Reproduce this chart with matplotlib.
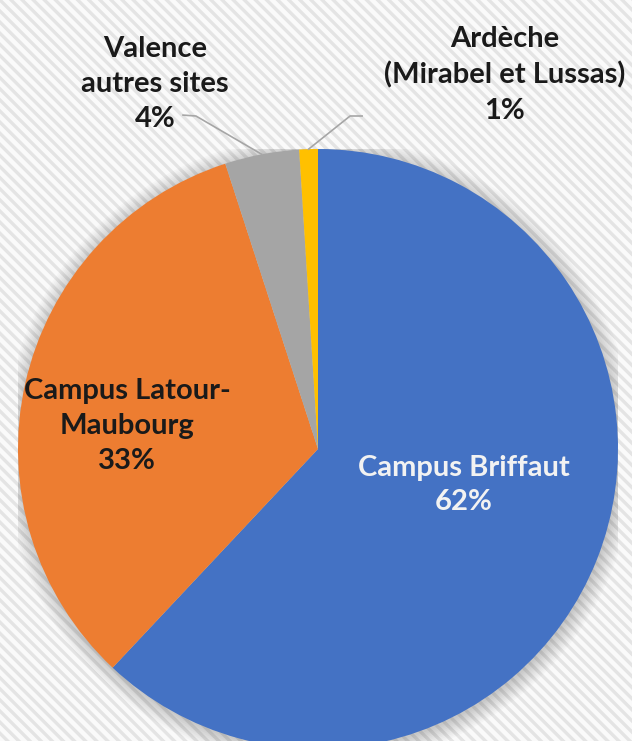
import matplotlib
matplotlib.use("Agg")
import matplotlib.pyplot as plt
import numpy as np
from matplotlib.patches import Circle

plt.rcParams['font.family'] = ['Lato', 'DejaVu Sans']
plt.rcParams['hatch.linewidth'] = 2.4

labels = ["Campus Briffaut", "Campus Latour-\nMaubourg", "Valence\nautres sites",
          "Ardèche\n(Mirabel et Lussas)"]
shares = [62, 33, 4, 1]
colors = ["#4472c4", "#ed7d31", "#a5a5a5", "#ffc000"]
text_colors = ["#f2f2f2", "#1a1a1a", "#1a1a1a", "#1a1a1a"]

W, H = 632, 741
fig = plt.figure(figsize=(W / 100, H / 100), dpi=100)

# striped background
bg = fig.add_axes([0, 0, 1, 1])
bg.add_patch(plt.Rectangle((0, 0), 1, 1, facecolor="#fafafa", hatch="\\\\\\",
                           edgecolor="#e4e4e4", linewidth=0, transform=bg.transAxes))
bg.axis("off")

# pie axes: center (318, 449) px, radius 300 px
cx, cy, r = 318, 449, 300
ax = fig.add_axes([(cx - r) / W, (H - cy - r) / H, 2 * r / W, 2 * r / H])

# soft shadow
for k in range(10):
    ax.add_patch(Circle((0.004, -0.008), 1.0 + 0.006 * k, color="black", alpha=0.018,
                        lw=0, zorder=0))

wedges, _ = ax.pie(shares, colors=colors, startangle=90, counterclock=False, radius=1,
                   wedgeprops=dict(linewidth=0))
for w in wedges:
    w.set_zorder(2)
ax.set_xlim(-1, 1)
ax.set_ylim(-1, 1)
ax.set_aspect("equal")
ax.axis("off")

# label positions in data units (layout)
pos = [(0.485, -0.12), (-0.637, 0.077), (-0.543, 1.217), (0.623, 1.247)]
for lab, s, p, tc in zip(labels, shares, pos, text_colors):
    ax.text(p[0], p[1], f"{lab}\n{s}%", ha="center", va="center", fontsize=21,
            fontweight="bold", color=tc, linespacing=1.42, zorder=5, clip_on=False)

# leader lines for the two small slices
cum = np.cumsum([0] + shares)
mid = [(cum[i] + cum[i + 1]) / 2 / 100 * 2 * np.pi for i in range(len(shares))]
lead = {2: [(-0.407, 1.11), (-0.45, 1.113)], 3: [(0.107, 1.11), (0.147, 1.11)]}
for i, pts in lead.items():
    x0, y0 = np.sin(mid[i]), np.cos(mid[i])
    xs = [x0] + [p[0] for p in pts]
    ys = [y0] + [p[1] for p in pts]
    ax.plot(xs, ys, color="#a6a6a6", lw=1.2, zorder=4, clip_on=False)

fig.savefig("out.png", dpi=100)
